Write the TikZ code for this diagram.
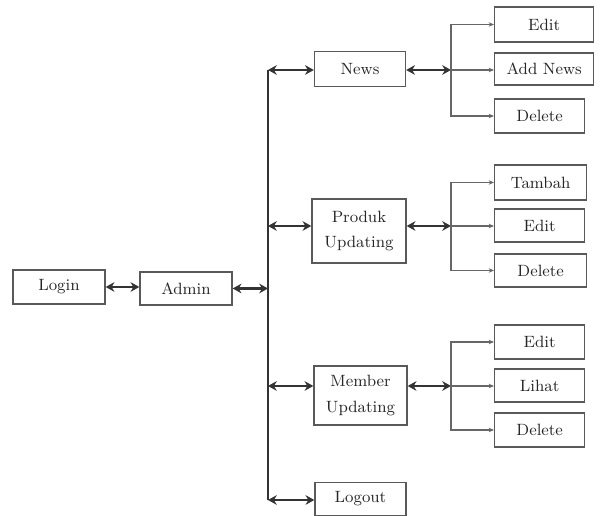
\documentclass[tikz,border=0pt]{standalone}
\usetikzlibrary{arrows.meta}

\tikzset{
    box/.style={draw=black!65, line width=0.8pt, text=black!85, align=center,
        inner sep=0pt, font=\fontsize{9.3}{14.5}\selectfont},
    link/.style={{Stealth[length=5pt,width=5.5pt]}-{Stealth[length=5pt,width=5.5pt]},
        line width=1.2pt, black!80},
    sub/.style={-{Stealth[length=3pt,width=2.5pt]}, line width=0.6pt, black!60}
}

\begin{document}
\begin{tikzpicture}[x=0.02cm, y=-0.02cm]
    \useasboundingbox (0,0) rectangle (600,516);

    % Main boxes
    \node[box, minimum width=1.84cm, minimum height=0.68cm] (login) at (59,287) {Login};
    \node[box, minimum width=1.84cm, minimum height=0.66cm] (admin) at (186,288.5) {Admin};
    \node[box, minimum width=1.82cm, minimum height=0.70cm] (news) at (360,69) {News};
    \node[box, minimum width=1.88cm, minimum height=1.28cm] (produk) at (359,231) {Produk\\Updating};
    \node[box, minimum width=1.86cm, minimum height=1.18cm] (member) at (360.5,395.5) {Member\\Updating};
    \node[box, minimum width=1.82cm, minimum height=0.66cm] (logout) at (360.5,499) {Logout};

    % Sub boxes
    \node[box, anchor=west, minimum width=1.98cm, minimum height=0.70cm] (nedit) at (494,24.5) {Edit};
    \node[box, anchor=west, minimum width=1.98cm, minimum height=0.64cm] (nadd) at (494,69) {Add News};
    \node[box, anchor=west, minimum width=1.80cm, minimum height=0.68cm] (ndel) at (494,116) {Delete};

    \node[box, anchor=west, minimum width=1.84cm, minimum height=0.70cm] (ptambah) at (494,182.5) {Tambah};
    \node[box, anchor=west, minimum width=1.80cm, minimum height=0.66cm] (pedit) at (494,225.5) {Edit};
    \node[box, anchor=west, minimum width=1.84cm, minimum height=0.66cm] (pdel) at (494,270.5) {Delete};

    \node[box, anchor=west, minimum width=1.80cm, minimum height=0.68cm] (medit) at (494,342) {Edit};
    \node[box, anchor=west, minimum width=1.80cm, minimum height=0.66cm] (mlihat) at (494,385.5) {Lihat};
    \node[box, anchor=west, minimum width=1.80cm, minimum height=0.68cm] (mdel) at (494,430) {Delete};

    % Bus and branch points
    \coordinate (bN) at (268,70);
    \coordinate (bP) at (268,226);
    \coordinate (bM) at (268,386);
    \coordinate (bL) at (268,500);
    \coordinate (brN) at (451,70);
    \coordinate (brP) at (451,226);
    \coordinate (brM) at (451,386);

    \draw[line width=1.2pt, black!80] (bN) -- (bL);

    % Main links
    \draw[link] (login.east) -- (login.east -| admin.west);
    \draw[link] (admin.east) -- (admin.east -| bN);
    \draw[link] (bN) -- (bN -| news.west);
    \draw[link] (bP) -- (bP -| produk.west);
    \draw[link] (bM) -- (bM -| member.west);
    \draw[link] (bL) -- (bL -| logout.west);

    \draw[link] (news.east |- brN) -- (brN);
    \draw[link] (produk.east |- brP) -- (brP);
    \draw[link] (member.east |- brM) -- (brM);

    % Sub links
    \draw[sub] (brN) |- (nedit.west);
    \draw[sub] (brN) -- (brN -| nadd.west);
    \draw[sub] (brN) |- (ndel.west);

    \draw[sub] (brP) |- (ptambah.west);
    \draw[sub] (brP) -- (brP -| pedit.west);
    \draw[sub] (brP) |- (pdel.west);

    \draw[sub] (brM) |- (medit.west);
    \draw[sub] (brM) -- (brM -| mlihat.west);
    \draw[sub] (brM) |- (mdel.west);
\end{tikzpicture}
\end{document}
